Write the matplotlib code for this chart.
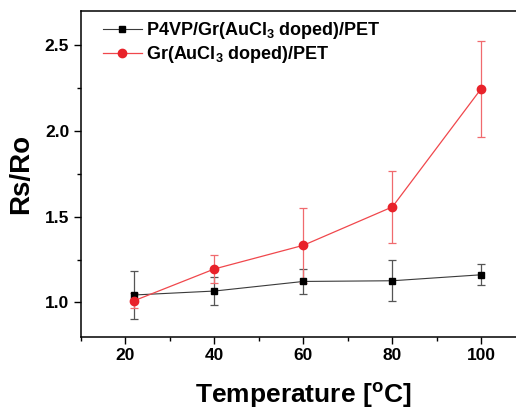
import matplotlib
matplotlib.use("Agg")
from matplotlib import pyplot as plt
from matplotlib.ticker import MultipleLocator

plt.rcParams["font.family"] = ["Liberation Sans", "DejaVu Sans"]
plt.rcParams["font.weight"] = "bold"
plt.rcParams["mathtext.fontset"] = "custom"
plt.rcParams["mathtext.rm"] = "Liberation Sans:bold"
plt.rcParams["mathtext.bf"] = "Liberation Sans:bold"

temperature = [22, 40, 60, 80, 100]

# P4VP/Gr(AuCl3 doped)/PET
p4vp_ratio = [1.043, 1.066, 1.122, 1.126, 1.161]
p4vp_err = [0.14, 0.08, 0.073, 0.12, 0.062]

# Gr(AuCl3 doped)/PET
gr_ratio = [1.01, 1.195, 1.333, 1.557, 2.248]
gr_err = [0.045, 0.08, 0.22, 0.21, 0.28]

labels = [r"P4VP/Gr(AuCl$_\mathbf{3}$ doped)/PET", r"Gr(AuCl$_\mathbf{3}$ doped)/PET"]

fig = plt.figure(figsize=(5.16, 4.11), dpi=100)
ax = fig.add_axes([0.157, 0.181, 0.862, 0.792])

eb1 = ax.errorbar(temperature, p4vp_ratio, yerr=p4vp_err, color="#3a3a3a", lw=0.8,
                  ecolor="#555555", elinewidth=0.9, capsize=3, capthick=0.9,
                  marker="s", ms=5, mfc="black", mec="black")
eb2 = ax.errorbar(temperature, gr_ratio, yerr=gr_err, color="#f0474c", lw=0.9,
                  ecolor="#f06a6e", elinewidth=0.9, capsize=3, capthick=0.9,
                  marker="o", ms=6, mfc="#e8222a", mec="#e8222a")

ax.set_xlim(10, 110)
ax.set_ylim(0.8, 2.7)
ax.set_xticks([20, 40, 60, 80, 100])
ax.xaxis.set_minor_locator(MultipleLocator(10))
ax.yaxis.set_major_locator(MultipleLocator(0.5))
ax.yaxis.set_minor_locator(MultipleLocator(0.25))

for s in ax.spines.values():
    s.set_linewidth(1.1)
ax.tick_params(which="both", direction="out", labelsize=12.5, width=1.0)
ax.tick_params(which="major", length=5)
ax.tick_params(which="minor", length=3)
for lbl in ax.get_xticklabels() + ax.get_yticklabels():
    lbl.set_fontweight("bold")

ax.set_xlabel(r"Temperature [$^\mathbf{o}$C]", fontsize=19, fontweight="bold", labelpad=12)
ax.set_ylabel("Rs/Ro", fontsize=20, fontweight="bold", labelpad=8)

ax.legend([eb1[0], eb2[0]], labels, loc="upper left", frameon=False, fontsize=13,
          handlelength=2.2, handletextpad=0.2, labelspacing=0.2,
          borderaxespad=0.3, bbox_to_anchor=(0.02, 1.012))

fig.savefig("out.png", dpi=100)
